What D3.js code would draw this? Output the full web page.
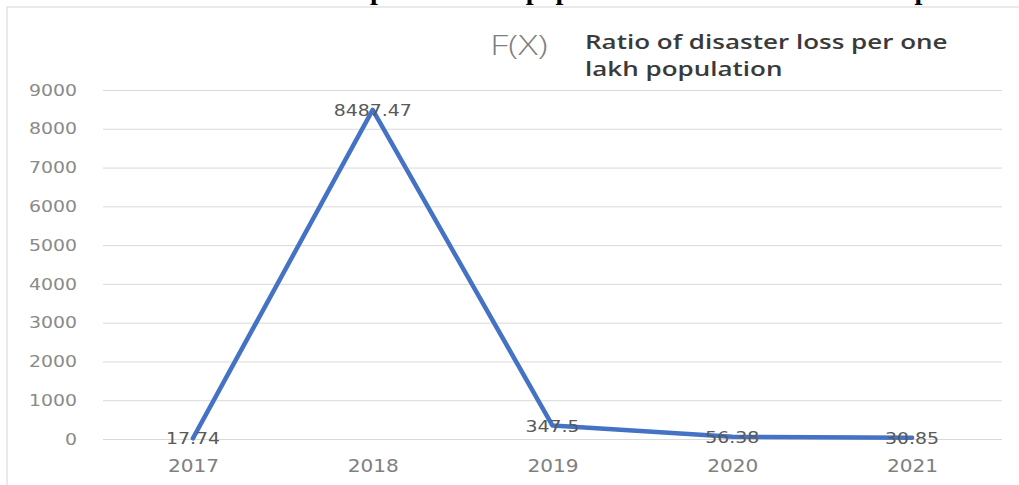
<!DOCTYPE html>
<html>
<head>
<meta charset="utf-8">
<script src="https://cdn.jsdelivr.net/npm/d3@7"></script>
<style>
  body { margin: 0; background: #fff; }
  svg { display: block; }
</style>
</head>
<body>
<svg id="container" width="1019" height="485"></svg>
<script>
const years = ['2017', '2018', '2019', '2020', '2021']
const ratio = [17.74, 8487.47, 347.5, 56.38, 30.85]
const yTicks = [0, 1000, 2000, 3000, 4000, 5000, 6000, 7000, 8000, 9000]
const legendMark = 'F(X)'
const legendLines = ['Ratio of disaster loss per one', 'lakh population']
const caption = 'Ratio of disaster loss per one lakh population in the reference time period'

const svg = d3.select('#container')
const sx = 1.18 // the source picture is stretched a bit sideways

// frame of the chart area
svg.append('rect')
  .attr('x', 7).attr('y', 7)
  .attr('width', 1040).attr('height', 520)
  .attr('fill', '#fff')
  .attr('stroke', '#d6d6d6')

// cut-off caption of the document above the chart
const cap = svg.append('text')
  .attr('y', -1)
  .attr('font-family', 'Liberation Serif')
  .attr('font-weight', 'bold')
  .attr('font-size', 28)
  .attr('fill', '#000')
  .text(caption)
const prefix = cap.node().getSubStringLength(0, caption.indexOf('per'))
cap.attr('x', 370 - prefix)

const x = d3.scalePoint().domain(years).range([103, 1002]).padding(0.5)
const y = d3.scaleLinear().domain([0, 9000]).range([439, 90])

// y axis with gridlines
const yAxis = svg.append('g')
  .attr('transform', 'translate(103,0)')
  .call(
    d3.axisLeft(y)
      .tickValues(yTicks)
      .tickFormat(d3.format('d'))
      .tickSize(-899)
      .tickPadding(26)
  )
yAxis.select('.domain').remove()
yAxis.selectAll('.tick line').attr('stroke', '#d9d9d9')
yAxis.selectAll('.tick text')
  .attr('font-family', 'DejaVu Sans')
  .attr('font-size', 16)
  .attr('fill', '#8a8a8a')
  .attr('x', -26 / sx)
  .attr('transform', `scale(${sx},1)`)

// x axis labels
const xAxis = svg.append('g')
  .attr('transform', 'translate(0,439)')
  .call(d3.axisBottom(x).tickSize(0).tickPadding(0))
xAxis.select('.domain').remove()
xAxis.selectAll('.tick text')
  .attr('font-family', 'DejaVu Sans')
  .attr('font-size', 17)
  .attr('fill', '#808080')
  .attr('dy', null)
  .attr('y', 33)
  .attr('transform', `scale(${sx},1)`)

// the series line
const line = d3.line()
  .x((d, i) => x(years[i]))
  .y((d) => y(d))

svg.append('path')
  .datum(ratio)
  .attr('d', line)
  .attr('fill', 'none')
  .attr('stroke', '#4472C4')
  .attr('stroke-width', 4.5)
  .attr('stroke-linejoin', 'round')
  .attr('stroke-linecap', 'round')

// data labels, centred on the points
svg.append('g')
  .selectAll('text')
  .data(ratio)
  .join('text')
  .attr('transform', (d, i) => `translate(${x(years[i])},${y(d) + 6}) scale(${sx},1)`)
  .attr('text-anchor', 'middle')
  .attr('font-family', 'DejaVu Sans')
  .attr('font-size', 16)
  .attr('fill', '#595959')
  .text((d) => d)

// legend
svg.append('text')
  .attr('transform', 'translate(490,55) scale(1.3,1)')
  .attr('font-family', 'Open Sans')
  .attr('font-weight', 300)
  .attr('font-size', 28)
  .attr('fill', '#7f7f7f')
  .text(legendMark)

svg.append('g')
  .selectAll('text')
  .data(legendLines)
  .join('text')
  .attr('transform', (d, i) => `translate(585,${49 + i * 27}) scale(1.3,1)`)
  .attr('font-family', 'Open Sans')
  .attr('font-weight', 600)
  .attr('font-size', 20)
  .attr('fill', '#3a3a3a')
  .text((d) => d)
</script>
</body>
</html>
